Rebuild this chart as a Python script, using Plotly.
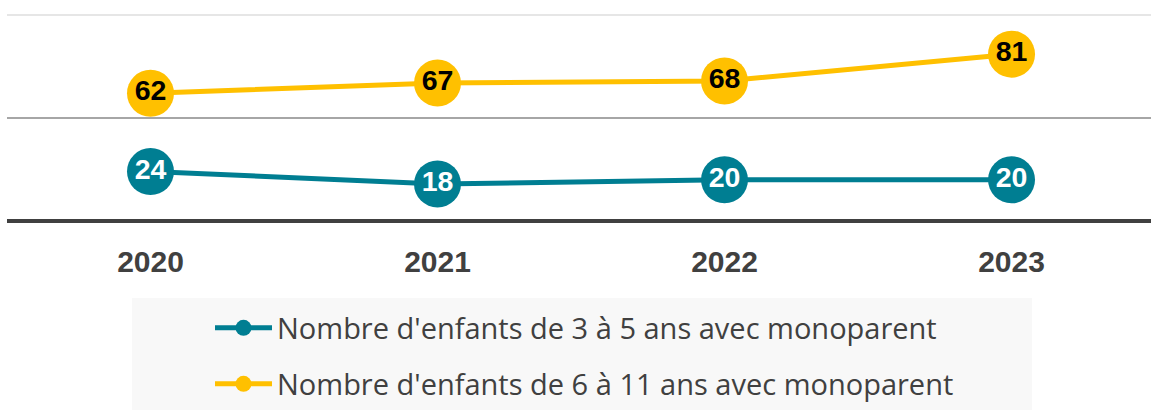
import plotly.graph_objects as go

years = ["2020", "2021", "2022", "2023"]
enfants_3_5 = [24, 18, 20, 20]
enfants_6_11 = [62, 67, 68, 81]
name_3_5 = "Nombre d'enfants de 3 à 5 ans avec monoparent"
name_6_11 = "Nombre d'enfants de 6 à 11 ans avec monoparent"

TEAL = "#007E92"
YELLOW = "#FFC000"
FONT = "Arial, Liberation Sans, sans-serif"
LEG_FONT = "Open Sans, Arial, sans-serif"

W, H = 1151, 410
L, R, T, B = 7, 0, 14, 189
plot_w = W - L - R
plot_h = H - T - B


def px_x(p):
    return (p - L) / plot_w


def px_y(p):
    return (H - B - p) / plot_h


fig = go.Figure()

for name, vals, col, tcol, leg in [
    (name_3_5, enfants_3_5, TEAL, "white", "legend"),
    (name_6_11, enfants_6_11, YELLOW, "black", "legend2"),
]:
    fig.add_trace(go.Scatter(
        x=years, y=vals, name=name, mode="lines+markers",
        line=dict(color=col, width=5),
        marker=dict(color=col, size=47, line=dict(width=0)),
        legend=leg, showlegend=True, hoverinfo="skip",
    ))
    fig.add_trace(go.Scatter(
        x=years, y=vals, mode="text", text=[str(v) for v in vals],
        textposition="middle center",
        textfont=dict(family=FONT, size=28.5, color=tcol, weight="bold"),
        showlegend=False, hoverinfo="skip",
    ))

fig.add_shape(
    type="rect", xref="paper", yref="paper",
    x0=px_x(132), x1=px_x(1032), y0=px_y(412), y1=px_y(298),
    fillcolor="#F8F8F8", line=dict(width=0), layer="below",
)

legend_style = dict(
    orientation="v", x=px_x(210), xanchor="left",
    bgcolor="rgba(0,0,0,0)",
    font=dict(family=LEG_FONT, size=29, color="#404040"),
    itemsizing="trace", itemwidth=57,
)

fig.update_layout(
    width=W, height=H,
    margin=dict(l=L, r=R, t=T, b=B),
    paper_bgcolor="white", plot_bgcolor="white",
    font=dict(family=FONT, color="#404040"),
    showlegend=True,
    legend=dict(legend_style, y=px_y(328), yanchor="middle"),
    legend2=dict(legend_style, y=px_y(409.5), yanchor="bottom"),
    xaxis=dict(
        type="category", range=[-0.5, 3.486],
        showgrid=False, zeroline=False, showline=False,
        ticks="outside", ticklen=14, tickcolor="rgba(0,0,0,0)",
        tickfont=dict(family=FONT, size=30, color="#404040", weight="bold"),
    ),
    yaxis=dict(
        range=[0, 100.5], tickvals=[50], showticklabels=False,
        showgrid=True, gridcolor="#A6A6A6", gridwidth=1.5,
        zeroline=True, zerolinecolor="#404040", zerolinewidth=3.5,
        showline=False,
        minor=dict(tickvals=[100], showgrid=True, gridcolor="#E6E6E6", gridwidth=1.5),
    ),
)

fig.write_html(
    "out.html",
    config={"displayModeBar": False},
    post_script="document.body.style.margin='0';",
)
